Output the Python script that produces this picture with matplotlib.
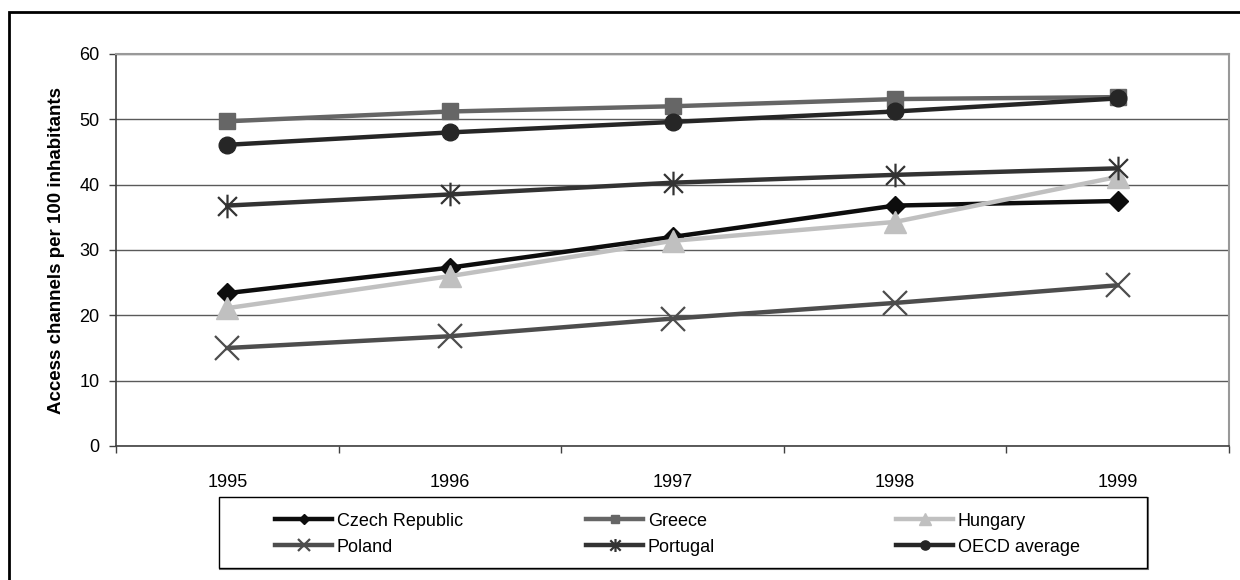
import matplotlib
matplotlib.use("Agg")
import matplotlib.pyplot as plt
import matplotlib.patches as mpatch
from matplotlib.path import Path
from matplotlib.ticker import FixedLocator, NullFormatter

plt.rcParams['font.family'] = ['Liberation Sans', 'DejaVu Sans']

years = ["1995", "1996", "1997", "1998", "1999"]
czech = [23.4, 27.3, 32.0, 36.8, 37.5]
greece = [49.7, 51.2, 52.0, 53.1, 53.4]
hungary = [21.1, 26.0, 31.4, 34.3, 41.2]
poland = [15.0, 16.8, 19.5, 21.9, 24.6]
portugal = [36.8, 38.5, 40.3, 41.5, 42.5]
oecd = [46.1, 48.0, 49.6, 51.2, 53.2]

yticks = [0, 10, 20, 30, 40, 50, 60]

# excel style star: an x with a vertical bar
star = Path([(-1, -1), (1, 1), (-1, 1), (1, -1), (0, -1.25), (0, 1.25)],
            [Path.MOVETO, Path.LINETO, Path.MOVETO, Path.LINETO, Path.MOVETO, Path.LINETO])

series = [
    ("Czech Republic", czech, "#0d0d0d", "D", 10, 1),
    ("Greece", greece, "#666666", "s", 11.5, 1),
    ("Hungary", hungary, "#c0c0c0", "^", 16, 1),
    ("Poland", poland, "#4d4d4d", "x", 17, 1.6),
    ("Portugal", portugal, "#333333", star, 17, 1.6),
    ("OECD average", oecd, "#262626", "o", 12, 1),
]

fig = plt.figure(figsize=(12.4, 5.8), dpi=100)
ax = fig.add_axes([116 / 1240, 1 - 446 / 580, (1229 - 116) / 1240, (446 - 54) / 580])

x = list(range(len(years)))
lines = []
for name, vals, col, mk, ms, mew in series:
    if mk in ("x",) or mk is star:
        ln, = ax.plot(x, vals, color=col, lw=3.2, marker=mk, ms=ms,
                      mfc="none", mec=col, mew=mew, label=name)
    else:
        ln, = ax.plot(x, vals, color=col, lw=3.2, marker=mk, ms=ms,
                      mfc=col, mec=col, mew=mew, label=name)
    lines.append(ln)

ax.set_xlim(-0.5, len(years) - 0.5)
ax.set_ylim(0, 60)
ax.set_yticks(yticks)
ax.set_xticks(x)
ax.set_xticklabels(years)
ax.xaxis.set_minor_locator(FixedLocator([i - 0.5 for i in range(len(years) + 1)]))
ax.xaxis.set_minor_formatter(NullFormatter())
ax.tick_params(axis="x", which="major", length=0, pad=20, labelsize=13)
ax.tick_params(axis="x", which="minor", length=5, width=1, color="#404040", direction="out")
ax.tick_params(axis="y", length=5, width=1, color="#404040", direction="out", pad=7, labelsize=13)
ax.grid(axis="y", color="#5a5a5a", lw=1)
ax.set_axisbelow(True)
for s in ("left", "bottom"):
    ax.spines[s].set_color("#404040")
    ax.spines[s].set_linewidth(1.2)
for s in ("top", "right"):
    ax.spines[s].set_color("#999999")
    ax.spines[s].set_linewidth(1.5)

ax.set_ylabel("Access channels per 100 inhabitants", fontsize=13.5, fontweight="bold", labelpad=10)

# outer frame of the chart area
fig.patches.append(mpatch.Rectangle((9 / 1240, -0.1), 1.2, 0.1 + 1 - 12 / 580,
                                    transform=fig.transFigure, fill=False,
                                    ec="black", lw=2))

# legend box with three evenly spaced columns
fig.patches.append(mpatch.Rectangle((220 / 1240, 1 - 569 / 580), 928 / 1240, 71 / 580,
                                    transform=fig.transFigure, fill=False,
                                    ec="#777777", lw=1.5))
fig.patches.append(mpatch.Rectangle((219 / 1240, 1 - 568 / 580), 928 / 1240, 71 / 580,
                                    transform=fig.transFigure, fc="white",
                                    ec="black", lw=1))
col_x = [262, 573, 883]
for i, cx in enumerate(col_x):
    hs = [lines[i], lines[i + 3]]
    leg = fig.legend(handles=hs, loc="upper left",
                     bbox_to_anchor=(cx / 1240, 1 - 500 / 580),
                     frameon=False, fontsize=13, handlelength=3.2,
                     handletextpad=0.25, labelspacing=0.5, markerscale=0.55,
                     borderpad=0.2)

fig.savefig("out.png", dpi=100)
